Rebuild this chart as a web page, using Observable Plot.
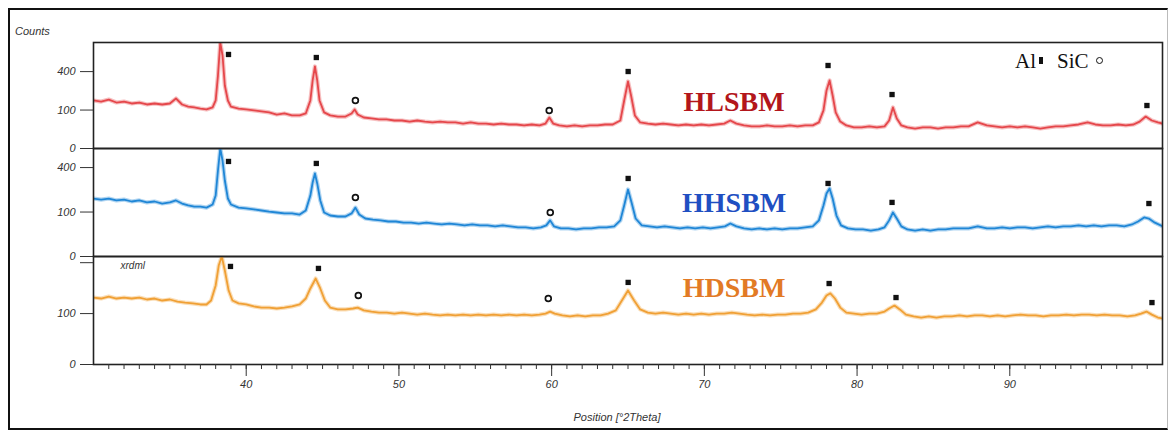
<!DOCTYPE html>
<html><head><meta charset="utf-8">
<script src="https://cdn.jsdelivr.net/npm/d3@7"></script>
<script src="https://cdn.jsdelivr.net/npm/@observablehq/plot@0.6"></script>
<style>
body{margin:0;background:#fff;}
#wrap{position:relative;width:1173px;height:432px;overflow:hidden;font-family:"Liberation Sans",Arial,sans-serif;background:#fff;}
#border{position:absolute;left:8px;top:8px;width:1157px;height:418px;border:2px solid #111;border-right:1px solid #bbb;}
.lbl{position:absolute;font-style:italic;font-size:11px;color:#333;white-space:nowrap;}
#legend{position:absolute;left:1015px;top:49px;font-family:"Liberation Serif",serif;font-size:21px;color:#111;white-space:nowrap;}
#legend .sq{display:inline-block;width:4px;height:7px;background:#111;margin:0 14px 0 3px;vertical-align:4px;}
#legend .ci{display:inline-block;width:5px;height:5px;border:1.6px solid #111;border-radius:50%;margin-left:7px;vertical-align:4px;}
g[aria-label$="tick label"] text{font-style:italic;}
</style></head>
<body><div id="wrap"><div id="border"></div>
<div class="lbl" style="left:15px;top:25px;">Counts</div>
<div class="lbl" style="left:517px;top:411px;width:200px;text-align:center;">Position [°2Theta]</div>
<div id="legend">Al<span class="sq"></span>SiC<span class="ci"></span></div>
</div>
<script>
// ---- data: [2θ (deg), counts] ----
const HLSBM = [[30,156],[30.5,149],[31,162],[31.5,143],[32,149],[32.5,137],[33,143],[33.5,131],[34,137],[34.5,131],[35,137],[35.4,169],[35.8,131],[36.2,119],[36.6,114],[37,108],[37.4,103],[37.8,114],[38,156],[38.15,360],[38.3,760],[38.45,585],[38.6,268],[38.8,156],[39,119],[39.5,108],[40,103],[40.5,98],[41,93],[41.5,88],[42,78],[42.5,83],[43,74],[43.5,74],[43.9,83],[44.2,156],[44.35,313],[44.5,455],[44.65,313],[44.8,156],[45.1,88],[45.5,74],[46,69],[46.5,69],[46.9,83],[47.1,103],[47.3,78],[47.7,65],[48.2,61],[48.7,57],[49.2,57],[49.7,53],[50.2,53],[50.7,49],[51.2,53],[51.7,49],[52.2,46],[52.7,49],[53.2,46],[53.7,46],[54.2,42],[54.7,46],[55.2,42],[55.7,42],[56.2,39],[56.7,42],[57.2,39],[57.7,39],[58.2,36],[58.7,39],[59.2,36],[59.6,42],[59.85,65],[60.1,42],[60.5,36],[61,33],[61.5,36],[62,33],[62.5,36],[63,36],[63.5,39],[64,39],[64.5,53],[64.75,156],[65,304],[65.2,190],[65.45,74],[65.8,46],[66.3,42],[66.8,39],[67.3,42],[67.8,39],[68.3,36],[68.8,39],[69.3,36],[69.8,39],[70.3,36],[70.8,39],[71.3,42],[71.7,53],[72.1,42],[72.6,36],[73.1,33],[73.6,33],[74.1,36],[74.6,33],[75.1,33],[75.6,36],[76.1,33],[76.6,36],[77.1,36],[77.5,46],[77.8,98],[78,228],[78.2,313],[78.4,190],[78.6,88],[78.9,49],[79.3,36],[79.8,30],[80.3,30],[80.8,33],[81.3,30],[81.8,33],[82.1,53],[82.35,114],[82.6,61],[82.9,36],[83.3,30],[83.8,27],[84.3,30],[84.8,30],[85.3,27],[85.8,30],[86.3,30],[86.8,33],[87.3,33],[87.9,46],[88.5,36],[89,33],[89.5,30],[90,33],[90.5,30],[91,33],[91.5,30],[92,27],[92.5,30],[93,33],[93.5,33],[94,36],[94.5,39],[95.1,46],[95.6,39],[96.1,36],[96.6,36],[97.1,39],[97.6,36],[98.1,39],[98.5,49],[98.9,69],[99.3,53],[99.7,46],[100,42]];

const HHSBM = [[30,170],[30.5,164],[31,170],[31.5,159],[32,164],[32.5,153],[33,159],[33.5,148],[34,153],[34.5,142],[35,148],[35.4,159],[35.8,142],[36.2,132],[36.6,126],[37,126],[37.4,121],[37.8,137],[38,188],[38.15,374],[38.3,590],[38.45,466],[38.6,292],[38.8,170],[39,137],[39.5,121],[40,117],[40.5,112],[41,107],[41.5,102],[42,98],[42.5,94],[43,94],[43.5,89],[43.9,107],[44.2,188],[44.35,277],[44.5,349],[44.65,270],[44.85,159],[45.1,98],[45.5,85],[46,81],[46.5,81],[46.9,94],[47.15,121],[47.4,89],[47.8,73],[48.3,69],[48.8,66],[49.3,62],[49.8,62],[50.3,58],[50.8,58],[51.3,55],[51.8,58],[52.3,55],[52.8,52],[53.3,55],[53.8,52],[54.3,49],[54.8,52],[55.3,49],[55.8,49],[56.3,46],[56.8,49],[57.3,46],[57.8,43],[58.3,43],[58.8,40],[59.3,43],[59.65,49],[59.9,66],[60.15,46],[60.6,40],[61.1,40],[61.6,37],[62.1,40],[62.6,40],[63.1,43],[63.6,43],[64.1,46],[64.5,66],[64.75,132],[65,227],[65.25,142],[65.5,73],[65.9,49],[66.4,46],[66.9,43],[67.4,46],[67.9,43],[68.4,40],[68.9,43],[69.4,40],[69.9,43],[70.4,40],[70.9,43],[71.35,46],[71.7,55],[72.1,46],[72.6,40],[73.1,37],[73.6,40],[74.1,37],[74.6,40],[75.1,37],[75.6,40],[76.1,40],[76.6,43],[77.1,46],[77.5,66],[77.8,132],[78,201],[78.2,234],[78.4,170],[78.65,85],[78.95,49],[79.4,40],[79.9,37],[80.4,37],[80.9,34],[81.4,37],[81.8,43],[82.1,66],[82.35,98],[82.6,73],[82.9,46],[83.3,37],[83.8,34],[84.3,37],[84.8,34],[85.3,37],[85.8,37],[86.3,40],[86.8,40],[87.3,40],[87.9,46],[88.5,40],[89,40],[89.5,43],[90,40],[90.5,43],[91,43],[91.5,40],[92,43],[92.5,46],[93,43],[93.5,46],[94,46],[94.5,49],[95,46],[95.5,49],[96,46],[96.5,49],[97,49],[97.5,46],[98,52],[98.4,62],[98.8,77],[99.1,73],[99.5,58],[100,46]];

const HDSBM = [[30,173],[30.5,168],[31,178],[31.5,168],[32,173],[32.5,168],[33,173],[33.5,163],[34,168],[34.5,158],[35,163],[35.5,153],[36,148],[36.5,144],[37,139],[37.4,139],[37.7,158],[38,241],[38.2,378],[38.4,450],[38.6,341],[38.85,211],[39.1,158],[39.5,144],[40,139],[40.5,130],[41,125],[41.5,125],[42,121],[42.5,125],[43,130],[43.5,139],[43.9,168],[44.2,223],[44.55,285],[44.85,223],[45.15,158],[45.5,125],[46,117],[46.5,117],[47,121],[47.3,125],[47.7,113],[48.2,108],[48.7,104],[49.2,104],[49.7,100],[50.2,104],[50.7,100],[51.2,96],[51.7,100],[52.2,96],[52.7,93],[53.2,96],[53.7,93],[54.2,96],[54.7,93],[55.2,96],[55.7,93],[56.2,96],[56.7,93],[57.2,96],[57.7,93],[58.2,96],[58.7,93],[59.2,96],[59.6,100],[59.9,108],[60.2,100],[60.7,93],[61.2,89],[61.7,93],[62.2,89],[62.7,93],[63.2,93],[63.7,100],[64.2,113],[64.6,158],[65,211],[65.4,158],[65.8,117],[66.3,104],[66.8,100],[67.3,104],[67.8,100],[68.3,96],[68.8,100],[69.3,96],[69.8,100],[70.3,96],[70.8,100],[71.3,100],[71.8,104],[72.3,100],[72.8,96],[73.3,93],[73.8,96],[74.3,93],[74.8,96],[75.3,96],[75.8,100],[76.3,100],[76.8,104],[77.3,117],[77.7,148],[78,184],[78.25,195],[78.55,168],[78.9,125],[79.3,104],[79.8,100],[80.3,96],[80.8,100],[81.3,100],[81.8,108],[82.1,121],[82.45,134],[82.8,117],[83.2,96],[83.7,89],[84.2,85],[84.7,89],[85.2,85],[85.7,89],[86.2,89],[86.7,93],[87.2,89],[87.7,93],[88.2,93],[88.7,89],[89.2,93],[89.7,89],[90.2,93],[90.7,96],[91.2,93],[91.7,93],[92.2,89],[92.7,93],[93.2,93],[93.7,96],[94.2,93],[94.7,96],[95.2,96],[95.7,93],[96.2,96],[96.7,93],[97.2,93],[97.7,89],[98.2,93],[98.6,100],[98.95,108],[99.3,96],[99.7,85],[100,82]];

// phase markers [2θ, counts]
const alHL  = [[38.84,598],[44.59,560],[65.01,401],[78.10,466],[82.29,197],[98.98,125]];
const sicHL = [[47.15,156],[59.84,98]];
const alHH  = [[38.84,457],[44.59,438],[65.01,308],[78.10,270],[82.29,148],[99.11,142]];
const sicHH = [[47.15,176],[59.91,98]];
const alHD  = [[38.97,371],[44.73,356],[65.01,260],[78.17,253],[82.55,173],[99.31,148]];
const sicHD = [[47.34,184],[59.78,168]];

const sampleNames = ["HLSBM","HHSBM","HDSBM"];
const majorX = [40,50,60,70,80,90];
const minorX = d3.range(31,100);
const yTicks = [0,100,400];

const wrap = document.getElementById("wrap");
const X = d => d[0], Y = d => d[1];

function panel({data, al, sic, color, lblColor, name, lblY, ymax, top, height, mt, mb, xAxis, extra}) {
  const marks = [
    Plot.line(data, {x: X, y: Y, stroke: color, strokeWidth: 4.2, strokeOpacity: 0.35, clip: true}),
    Plot.line(data, {x: X, y: Y, stroke: color, strokeWidth: 1.8, clip: true}),
    Plot.dot(al, {x: X, y: Y, symbol: "square", r: 3, fill: "#111"}),
    Plot.dot(sic, {x: X, y: Y, symbol: "circle", r: 2.9, fill: "white", stroke: "#111", strokeWidth: 1.7}),
    Plot.text([name], {x: 71.95, y: lblY, text: d => d, fill: lblColor, fontFamily: "Liberation Serif", fontWeight: "bold", fontSize: 28, fontStyle: "normal"}),
    Plot.frame({stroke: "#222", strokeWidth: 1.6}),
    ...extra
  ];
  if (xAxis) {
    marks.push(Plot.axisX({ticks: minorX, tickSize: 5, tickFormat: () => "", label: null}));
    marks.push(Plot.axisX({ticks: majorX, tickSize: 12, tickPadding: 4, label: null, fontStyle: "italic"}));
  }
  const svg = Plot.plot({
    width: 1173, height, marginLeft: 93, marginRight: 11, marginTop: mt, marginBottom: mb,
    x: {domain: [30, 100], ...(xAxis ? {} : {axis: null})},
    y: {type: "sqrt", domain: [0, ymax]},
    style: {background: "transparent", overflow: "visible", color: "#333", fontFamily: "Liberation Sans, Arial, sans-serif", fontSize: "11px"},
    marks
  });
  svg.style.position = "absolute";
  svg.style.left = "0px";
  svg.style.top = top + "px";
  wrap.appendChild(svg);
}

const yAx = (ticks, fmt) => Plot.axisY({ticks, tickSize: 13, tickPadding: 5, label: null, fontStyle: "italic", tickFormat: fmt});

panel({data: HLSBM, al: alHL, sic: sicHL, color: "#e5474b", lblColor: "#b3161b", name: sampleNames[0], lblY: 149,
  ymax: 760, top: 30, height: 130, mt: 12, mb: 12, xAxis: false, extra: [yAx(yTicks)]});
panel({data: HHSBM, al: alHH, sic: sicHH, color: "#1f86d6", lblColor: "#1f4fc2", name: sampleNames[1], lblY: 142,
  ymax: 590, top: 136, height: 132, mt: 12, mb: 12, xAxis: false, extra: [yAx(yTicks)]});
panel({data: HDSBM, al: alHD, sic: sicHD, color: "#f0a035", lblColor: "#e27a25", name: sampleNames[2], lblY: 223,
  ymax: 450, top: 244, height: 156, mt: 12, mb: 36, xAxis: true,
  extra: [yAx([0,100]), yAx([400], () => ""),
    Plot.text(["xrdml"], {x: 31.77, y: 378, text: d => d, textAnchor: "start", fontStyle: "italic", fontSize: 10, fill: "#333"})]});
</script></body></html>
